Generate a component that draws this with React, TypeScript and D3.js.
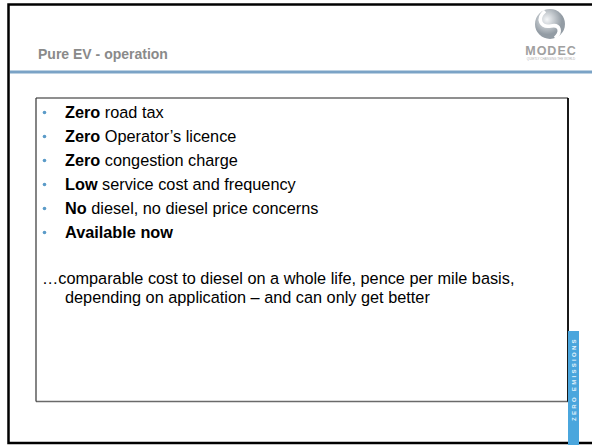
import { useEffect, useRef } from 'react';
import { select, scalePoint, range } from 'd3';

const title = 'Pure EV - operation';
const boldParts = ['Zero', 'Zero', 'Zero', 'Low', 'No', 'Available now'];
const restParts = [
  ' road tax',
  ' Operator\u2019s licence',
  ' congestion charge',
  ' service cost and frequency',
  ' diesel, no diesel price concerns',
  '',
];
const closingLines = [
  '\u2026comparable cost to diesel on a whole life, pence per mile basis,',
  'depending on application \u2013 and can only get better',
];
const logoName = 'MODEC';
const logoTagline = 'QUIETLY CHANGING THE WORLD';
const stripLabel = 'ZERO EMISSIONS';

const W = 592;
const H = 445;
const font = 'Arial, "Liberation Sans", sans-serif';

const App = () => {
  const svgRef = useRef<SVGSVGElement>(null);

  useEffect(() => {
    if (!svgRef.current) return;
    const svg = select(svgRef.current);
    svg.selectAll('*').remove();

    svg.append('rect').attr('width', W).attr('height', H).attr('fill', '#fff');

    // outer slide frame
    svg
      .append('rect')
      .attr('x', 8.5)
      .attr('y', 4.5)
      .attr('width', 600)
      .attr('height', 438.5)
      .attr('fill', 'none')
      .attr('stroke', '#000')
      .attr('stroke-width', 2.5);

    // header rule
    svg
      .append('rect')
      .attr('x', 10)
      .attr('y', 70.5)
      .attr('width', W - 10)
      .attr('height', 3)
      .attr('fill', '#7ba3c6');

    svg
      .append('text')
      .attr('x', 38)
      .attr('y', 59)
      .attr('font-family', font)
      .attr('font-size', 14)
      .attr('font-weight', 'bold')
      .attr('fill', '#8a8a8a')
      .text(title);

    // logo
    const defs = svg.append('defs');
    const grad = defs
      .append('radialGradient')
      .attr('id', 'lg')
      .attr('cx', '40%')
      .attr('cy', '35%');
    grad.append('stop').attr('offset', '0%').attr('stop-color', '#f4f6f8');
    grad.append('stop').attr('offset', '100%').attr('stop-color', '#939ca4');
    const logo = svg.append('g').attr('transform', 'translate(550,24)');
    logo.append('circle').attr('r', 15).attr('fill', 'url(#lg)');
    logo
      .append('path')
      .attr('d', 'M-5,-13 C-14,-5 -9,4 1,2 C10,0 12,8 5,14')
      .attr('fill', 'none')
      .attr('stroke', '#fff')
      .attr('stroke-width', 3.5);
    logo
      .append('text')
      .attr('x', 1)
      .attr('y', 31)
      .attr('text-anchor', 'middle')
      .attr('font-family', font)
      .attr('font-size', 12.5)
      .attr('font-weight', 'bold')
      .attr('letter-spacing', 1)
      .attr('fill', '#a0a0a0')
      .text(logoName);
    logo
      .append('text')
      .attr('x', 1)
      .attr('y', 36)
      .attr('text-anchor', 'middle')
      .attr('font-family', font)
      .attr('font-size', 3)
      .attr('fill', '#b0b0b0')
      .text(logoTagline);

    // content box
    const box = { x0: 36, y0: 98, x1: 568, y1: 401.5 };
    const edges = [
      { x1: box.x0, y1: box.y0, x2: box.x1, y2: box.y0, c: '#6a6a6a', w: 1.5 },
      { x1: box.x0, y1: box.y1, x2: box.x1, y2: box.y1, c: '#6a6a6a', w: 1.5 },
      { x1: box.x0, y1: box.y0, x2: box.x0, y2: box.y1, c: '#333', w: 1.2 },
      { x1: box.x1, y1: box.y0, x2: box.x1, y2: box.y1, c: '#000', w: 1.8 },
    ];
    svg
      .selectAll('line.edge')
      .data(edges)
      .join('line')
      .attr('class', 'edge')
      .attr('x1', (d) => d.x1)
      .attr('y1', (d) => d.y1)
      .attr('x2', (d) => d.x2)
      .attr('y2', (d) => d.y2)
      .attr('stroke', (d) => d.c)
      .attr('stroke-width', (d) => d.w);

    const y = scalePoint<number>()
      .domain(range(boldParts.length))
      .range([117.5, 237.5]);

    const rows = svg
      .selectAll('g.row')
      .data(boldParts)
      .join('g')
      .attr('class', 'row')
      .attr('transform', (_, i) => `translate(0,${y(i)})`);

    rows
      .append('circle')
      .attr('cx', 44.5)
      .attr('cy', -5)
      .attr('r', 1.8)
      .attr('fill', '#5b9bc8');

    const t = rows
      .append('text')
      .attr('x', 65)
      .attr('font-family', font)
      .attr('font-size', 16.3)
      .attr('fill', '#000');
    t.append('tspan')
      .attr('font-weight', 'bold')
      .text((d) => d);
    t.append('tspan').text((_, i) => restParts[i]);

    svg
      .selectAll('text.closing')
      .data(closingLines)
      .join('text')
      .attr('class', 'closing')
      .attr('x', (_, i) => (i === 0 ? 42 : 65))
      .attr('y', (_, i) => 284 + i * 19)
      .attr('font-family', font)
      .attr('font-size', 16.3)
      .attr('fill', '#000')
      .text((d) => d);

    // zero emissions strip
    svg
      .append('rect')
      .attr('x', 568)
      .attr('y', 331)
      .attr('width', 11)
      .attr('height', 114)
      .attr('fill', '#4aa6dd');
    svg
      .append('text')
      .attr('transform', 'translate(576,421) rotate(-90)')
      .attr('font-family', font)
      .attr('font-size', 6)
      .attr('font-weight', 'bold')
      .attr('letter-spacing', 2.3)
      .attr('fill', '#e8f4fb')
      .text(stripLabel);
  }, []);

  return (
    <svg
      ref={svgRef}
      width={W}
      height={H}
      style={{ position: 'absolute', left: 0, top: 0, display: 'block' }}
    />
  );
};

export default App;
